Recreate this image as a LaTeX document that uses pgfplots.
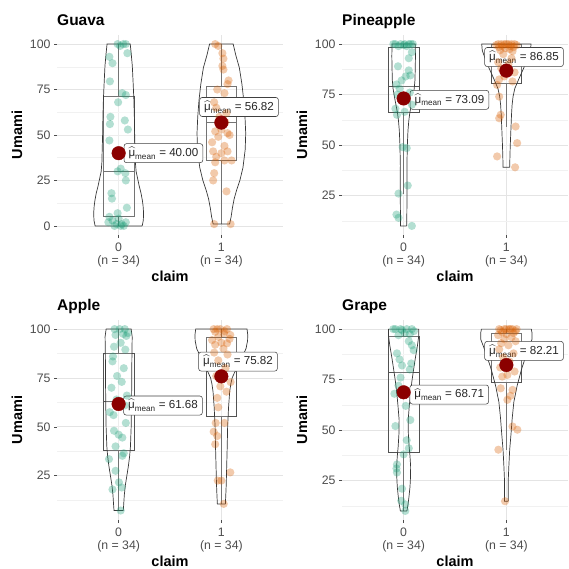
\documentclass[border=0pt]{standalone}
\usepackage{fontspec}
\setmainfont{Liberation Sans}
\usepackage{amsmath}
\usepackage{pgfplots}
\pgfplotsset{compat=1.18}
\definecolor{dgreen}{HTML}{1B9E77}
\definecolor{dorange}{HTML}{D95F02}
\definecolor{mred}{HTML}{8B0000}
\definecolor{tickgray}{HTML}{4D4D4D}
\definecolor{gridmaj}{HTML}{E4E4E4}
\definecolor{gridmin}{HTML}{F1F1F1}
\newcommand{\lab}[1]{$\widehat{\text{μ}}_{\text{mean}}$ = #1}
\pgfplotsset{
 panel/.style={
  scale only axis, width=226pt, height=200pt, anchor=south west,
  xmin=-0.6, xmax=1.6,
  axis line style={draw=none},
  tick align=outside, xtick pos=bottom, ytick pos=left,
  major tick length=3pt, minor tick length=0pt,
  tick style={tickgray, line width=0.6pt},
  xtick={0,1}, xticklabels={{0\\(n = 34)},{1\\(n = 34)}},
  xticklabel style={align=center, font=\fontsize{12.3}{13}\selectfont, text=tickgray, yshift=-1.5pt},
  yticklabel style={font=\fontsize{12.3}{13}\selectfont, text=tickgray},
  minor ytick={12.5,37.5,62.5,87.5},
  grid=both, major grid style={gridmaj, line width=0.8pt}, minor grid style={gridmin, line width=0.5pt},
  xlabel={claim}, ylabel={Umami},
  label style={font=\bfseries\fontsize{14.5}{16}\selectfont},
  xlabel style={at={(axis description cs:0.5,0)}, anchor=base, yshift=-46pt},
  ylabel style={at={(axis description cs:-0.177,0.5)}, anchor=center},
  title style={at={(axis description cs:0,1)}, anchor=base west, inner sep=0pt, yshift=3.5pt, font=\bfseries\fontsize{15.5}{18}\selectfont},
 },
 ptg/.style={only marks, mark=*, mark size=4.1pt, mark options={draw opacity=0, fill=dgreen, fill opacity=0.33}},
 pto/.style={only marks, mark=*, mark size=4.1pt, mark options={draw opacity=0, fill=dorange, fill opacity=0.33}},
 vio/.style={draw=black!78, line width=0.7pt, fill=white, fill opacity=0.2, mark=none},
 boxst/.style={draw=black!68, line width=0.8pt, fill=white, fill opacity=0.2, mark=none},
 boxln/.style={draw=black!68, line width=0.8pt, mark=none},
 meanpt/.style={only marks, mark=*, mark size=6.8pt, mark options={fill=mred, draw=mred}},
 seg/.style={black, line width=0.6pt, mark=none},
}
\tikzset{mlabel/.style={draw=black!75, fill=white, rounded corners=2.5pt, line width=0.55pt, inner xsep=4.5pt, inner ysep=3.3pt, font=\fontsize{11.6}{13}\selectfont, text=black!85, anchor=west}}
% box: xl xc xr q1 med q3 lo hi
\newcommand{\boxp}[8]{%
 \addplot[boxst] coordinates {(#1,#4) (#3,#4) (#3,#6) (#1,#6) (#1,#4)};
 \addplot[boxln] coordinates {(#1,#5) (#3,#5)};
 \addplot[boxln] coordinates {(#2,#6) (#2,#8)};
 \addplot[boxln] coordinates {(#2,#4) (#2,#7)};
}
\begin{document}
\begin{tikzpicture}
\useasboundingbox (0,0) rectangle (569pt,568pt);
% ---------------- Guava
\begin{axis}[panel, at={(57pt,333pt)}, ymin=-5, ymax=105, ytick={0,25,50,75,100}, yticklabels={0,25,50,75,100}, title={Guava}]
\addplot[ptg] coordinates {(-0.01,100) (0.045,100) (0.07,100) (0.015,99) (-0.09,93) (-0.06,89.5) (0.085,95) (-0.085,79.5) (0.035,73) (0.07,72) (-0.005,68) (-0.08,60) (-0.085,56) (0.06,58) (0.09,53) (-0.09,47) (0.02,31.5) (-0.01,30) (0.065,29) (0.07,25) (-0.07,18) (-0.065,15) (0.08,10) (-0.01,7) (-0.09,5) (-0.06,3) (0.03,1) (0.05,0) (-0.1,2) (-0.04,0) (0,4) (0.07,2) (0.02,0) (-0.02,1)};
\addplot[pto] coordinates {(0.94,100) (0.97,99) (1.01,95) (1.02,92) (1.01,88) (1.02,86) (1.07,80) (1.06,78) (0.96,75) (1.03,73) (0.93,68) (0.95,65) (1.05,62) (0.98,60) (1.04,57) (0.94,52) (1,53) (1.06,51) (0.97,49) (1.08,50) (0.91,46) (1.03,44) (0.92,41) (1,40) (1.06,41) (0.95,38) (1.1,36) (0.94,35) (1.03,36) (0.93,29) (0.92,25) (1.05,19) (0.93,1) (1.09,1)};
\boxp{-0.15}{0}{0.15}{5}{30}{71}{0}{100}
\boxp{0.85}{1}{1.15}{36.3}{57}{77}{1}{100}
\addplot[vio] coordinates {(0.229,0) (0.240,3) (0.243,7) (0.238,11) (0.231,14) (0.218,18) (0.200,22) (0.185,26) (0.170,30) (0.163,35) (0.160,42) (0.156,50) (0.153,60) (0.148,70) (0.140,80) (0.133,88) (0.122,95) (0.113,100) (-0.113,100) (-0.122,95) (-0.133,88) (-0.140,80) (-0.148,70) (-0.153,60) (-0.156,50) (-0.160,42) (-0.163,35) (-0.170,30) (-0.185,26) (-0.200,22) (-0.218,18) (-0.231,14) (-0.238,11) (-0.243,7) (-0.240,3) (-0.229,0) (0.229,0)};
\addplot[vio] coordinates {(1.080,1) (1.095,5) (1.108,10) (1.125,15) (1.150,20) (1.180,25) (1.210,32) (1.232,42) (1.237,51) (1.230,60) (1.218,69) (1.200,78) (1.175,87) (1.140,94) (1.115,100) (0.885,100) (0.860,94) (0.825,87) (0.800,78) (0.782,69) (0.770,60) (0.763,51) (0.768,42) (0.790,32) (0.820,25) (0.850,20) (0.875,15) (0.892,10) (0.905,5) (0.920,1) (1.080,1)};
\addplot[meanpt] coordinates {(0,40.00) (1,56.82)};
\addplot[seg] coordinates {(0,40) (0.05,40)};
\addplot[seg] coordinates {(1,56.82) (1.04,59.9)};
\node[mlabel] at (axis cs:0.05,40) {\lab{40.00}};
\node[mlabel] at (axis cs:0.786,65.4) {\lab{56.82}};
\end{axis}
% ---------------- Pineapple
\begin{axis}[panel, at={(342pt,333pt)}, ymin=5.5, ymax=104.5, ytick={25,50,75,100}, yticklabels={25,50,75,100}, title={Pineapple}]
\addplot[ptg] coordinates {(-0.08,100) (-0.03,100) (0.01,100) (0.05,100) (0.09,100) (-0.05,99) (0.03,99) (0.07,100) (-0.1,100) (0,99.5) (0.08,96) (0.05,93) (-0.055,89) (0.05,87) (0.02,84) (0.065,84.5) (-0.02,82) (-0.07,80) (-0.04,78) (0.06,76) (-0.06,75) (0.03,73) (-0.02,72) (0.08,70) (-0.08,68) (0.01,66.5) (-0.065,65) (-0.01,49) (0.03,48.5) (0.04,30) (-0.05,26) (-0.07,15.6) (-0.05,14) (0.08,10)};
\addplot[pto] coordinates {(0.92,100) (0.95,100) (0.98,100) (1.02,100) (1.05,100) (1.08,100) (0.9,99.5) (1.1,99.5) (0.96,99) (1.04,99) (1,100) (0.93,98.5) (1.07,98.5) (0.99,98) (1.03,97.5) (0.94,97) (1.06,96.5) (0.97,95) (1.05,93) (0.92,91) (1.02,90) (0.95,88) (1.08,86) (0.98,84) (0.93,82.5) (1.06,81.5) (0.91,79.8) (0.93,74) (0.945,65) (0.93,63.3) (1.09,59.2) (1.105,51) (0.91,44.4) (1.085,39)};
\boxp{-0.15}{0}{0.15}{66}{79}{98.5}{26}{100}
\boxp{0.85}{1}{1.15}{80.6}{100}{100}{59.2}{100}
\addplot[vio] coordinates {(0.030,10) (0.032,20) (0.033,30) (0.032,40) (0.036,50) (0.042,57) (0.050,62) (0.060,66) (0.075,70) (0.090,74) (0.103,78) (0.110,82) (0.113,88) (0.115,94) (0.113,100) (-0.113,100) (-0.115,94) (-0.113,88) (-0.110,82) (-0.103,78) (-0.090,74) (-0.075,70) (-0.060,66) (-0.050,62) (-0.042,57) (-0.036,50) (-0.032,40) (-0.033,30) (-0.032,20) (-0.030,10) (0.030,10)};
\addplot[vio] coordinates {(1.032,39) (1.035,45) (1.038,50) (1.042,55) (1.046,60) (1.050,65) (1.056,70) (1.065,74) (1.082,78) (1.115,82) (1.150,86) (1.185,90) (1.215,94) (1.235,97) (1.240,100) (0.760,100) (0.765,97) (0.785,94) (0.815,90) (0.850,86) (0.885,82) (0.918,78) (0.935,74) (0.944,70) (0.950,65) (0.954,60) (0.958,55) (0.962,50) (0.965,45) (0.968,39) (1.032,39)};
\addplot[meanpt] coordinates {(0,73.09) (1,86.85)};
\addplot[seg] coordinates {(0,73.09) (0.06,72.4)};
\addplot[seg] coordinates {(1,86.85) (1.04,88.5)};
\node[mlabel] at (axis cs:0.06,72.4) {\lab{73.09}};
\node[mlabel] at (axis cs:0.786,93.6) {\lab{86.85}};
\end{axis}
% ---------------- Apple
\begin{axis}[panel, at={(57pt,48pt)}, ymin=2.35, ymax=104.65, ytick={25,50,75,100}, yticklabels={25,50,75,100}, title={Apple}]
\addplot[ptg] coordinates {(0.02,7.2) (-0.06,18) (0.03,19) (0.003,21.6) (-0.03,27.5) (-0.094,33.5) (0.036,35.2) (0.05,36.5) (-0.03,40) (0.036,44.5) (0,46) (-0.045,48) (0.07,52) (-0.05,56) (-0.087,57.5) (0.06,61) (-0.02,64) (0.08,66) (-0.07,70) (0.03,73) (-0.015,76) (0.05,80) (-0.06,83.5) (-0.055,86) (0.065,89.5) (-0.045,91) (0.02,93) (0.075,96.5) (-0.03,97) (0.045,97.5) (0.09,98) (0.01,100) (-0.04,100) (0.06,100)};
\addplot[pto] coordinates {(1.023,10.6) (0.965,22.5) (1,22.5) (1.087,26.7) (0.94,41.1) (0.96,45.3) (0.925,47.5) (0.945,52) (1.03,52) (0.97,60) (0.96,64.8) (1.05,68) (0.99,70.7) (1.09,72.9) (0.95,76) (1.04,80) (0.97,84) (1.06,87) (0.93,88) (1.02,90) (0.94,92) (1.055,92.7) (0.91,94.4) (1,93) (1.08,95) (0.925,100) (0.96,100) (0.99,100) (1.055,100) (0.94,98.6) (1.023,97.8) (1.087,97) (1.03,99) (0.97,96)};
\boxp{-0.15}{0}{0.15}{38}{62.8}{87.6}{7.2}{100}
\boxp{0.85}{1}{1.15}{55.1}{86}{95.6}{10.5}{100}
\addplot[vio] coordinates {(0.045,7.2) (0.049,10) (0.055,15) (0.065,20) (0.080,25) (0.095,30) (0.107,35) (0.115,40) (0.122,50) (0.125,60) (0.127,70) (0.128,80) (0.130,90) (0.132,96) (0.122,100) (-0.122,100) (-0.132,96) (-0.130,90) (-0.128,80) (-0.127,70) (-0.125,60) (-0.122,50) (-0.115,40) (-0.107,35) (-0.095,30) (-0.080,25) (-0.065,20) (-0.055,15) (-0.049,10) (-0.045,7.2) (0.045,7.2)};
\addplot[vio] coordinates {(1.039,10.5) (1.043,15) (1.047,20) (1.052,30) (1.057,40) (1.061,50) (1.070,60) (1.081,68) (1.092,72) (1.105,75) (1.130,78) (1.155,80) (1.180,83) (1.205,86) (1.240,90) (1.255,94) (1.257,97) (1.250,100) (0.750,100) (0.743,97) (0.745,94) (0.760,90) (0.795,86) (0.820,83) (0.845,80) (0.870,78) (0.895,75) (0.908,72) (0.919,68) (0.930,60) (0.939,50) (0.943,40) (0.948,30) (0.953,20) (0.957,15) (0.961,10.5) (1.039,10.5)};
\addplot[meanpt] coordinates {(0,61.68) (1,75.82)};
\addplot[seg] coordinates {(0,61.68) (0.046,61.2)};
\addplot[seg] coordinates {(1,75.82) (1.05,78)};
\node[mlabel] at (axis cs:0.046,60.9) {\lab{61.68}};
\node[mlabel] at (axis cs:0.776,83.4) {\lab{75.82}};
\end{axis}
% ---------------- Grape
\begin{axis}[panel, at={(342pt,48pt)}, ymin=5.5, ymax=104.5, ytick={25,50,75,100}, yticklabels={25,50,75,100}, title={Grape}]
\addplot[ptg] coordinates {(0.016,10) (0.016,13.2) (-0.023,15) (-0.016,21) (-0.065,29) (-0.07,31) (-0.065,33) (0,38) (0.05,41) (0.03,45) (-0.08,52) (0.065,55) (0.02,62) (-0.09,68) (-0.05,72) (-0.03,76) (0.06,80) (-0.016,82) (0.074,83) (-0.04,85) (-0.065,88) (0.097,89.6) (0.08,92) (0.05,94) (-0.08,100) (-0.03,100) (0.03,100) (0.08,100) (0.1,99) (-0.016,99.5) (-0.1,100) (0.01,98) (0.06,97.5) (-0.05,97)};
\addplot[pto] coordinates {(0.987,14.8) (0.922,40.3) (1.107,50.2) (1.06,51.8) (1.01,65) (1.04,67) (0.945,70.7) (1.06,69.9) (0.96,76.5) (1.01,77.3) (1.08,79) (0.94,81) (1.03,84) (0.97,86) (1.07,88) (0.93,90) (1.02,92) (0.95,93) (1.09,94) (0.98,95) (1.05,96) (0.92,97) (1,97.5) (1.07,98) (0.93,100) (0.98,100) (1.026,100) (1.06,100) (0.945,99.5) (1.09,99) (1,100) (0.96,98.5) (1.04,100) (1.1,100)};
\boxp{-0.15}{0}{0.15}{39.1}{78.6}{96.2}{10}{100}
\boxp{0.85}{1}{1.15}{73.7}{91}{97.9}{40.3}{100}
\addplot[vio] coordinates {(0.032,10) (0.042,13) (0.052,17) (0.062,22) (0.067,27) (0.068,32) (0.062,37) (0.053,42) (0.046,48) (0.044,55) (0.055,62) (0.066,68) (0.080,74) (0.097,80) (0.115,86) (0.135,92) (0.148,97) (0.148,100) (-0.148,100) (-0.148,97) (-0.135,92) (-0.115,86) (-0.097,80) (-0.080,74) (-0.066,68) (-0.055,62) (-0.044,55) (-0.046,48) (-0.053,42) (-0.062,37) (-0.068,32) (-0.067,27) (-0.062,22) (-0.052,17) (-0.042,13) (-0.032,10) (0.032,10)};
\addplot[vio] coordinates {(1.018,14.8) (1.018,25) (1.024,32) (1.032,40) (1.045,48) (1.057,56) (1.073,64) (1.105,72) (1.147,80) (1.185,86) (1.220,91) (1.250,95) (1.250,98) (1.243,100) (0.757,100) (0.750,98) (0.750,95) (0.780,91) (0.815,86) (0.853,80) (0.895,72) (0.927,64) (0.943,56) (0.955,48) (0.968,40) (0.976,32) (0.982,25) (0.982,14.8) (1.018,14.8)};
\addplot[meanpt] coordinates {(0,68.71) (1,82.21)};
\addplot[seg] coordinates {(0,68.71) (0.058,68)};
\addplot[seg] coordinates {(1,82.21) (1.04,83.9)};
\node[mlabel] at (axis cs:0.058,67.6) {\lab{68.71}};
\node[mlabel] at (axis cs:0.786,89.2) {\lab{82.21}};
\end{axis}
\end{tikzpicture}
\end{document}
